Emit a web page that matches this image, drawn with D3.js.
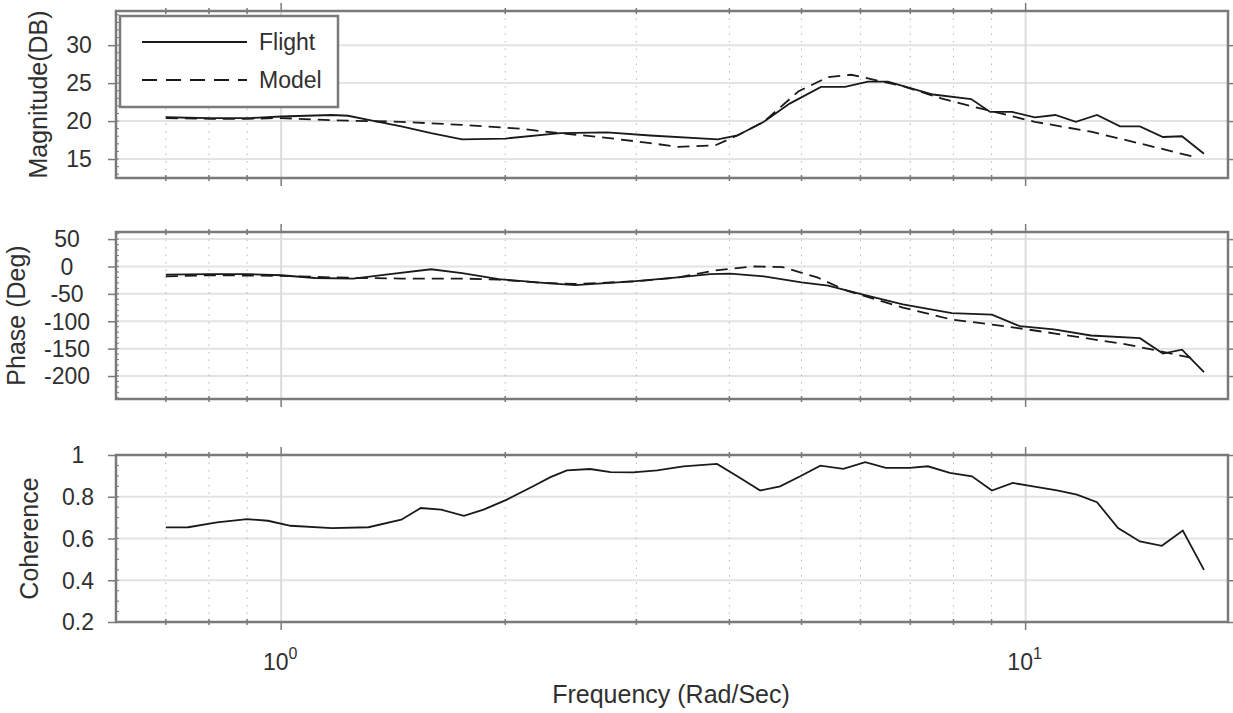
<!DOCTYPE html>
<html lang="en">
<head>
<meta charset="UTF-8">
<title>Flight vs Model frequency response</title>
<style>
  body { margin: 0; background: #fff; }
  svg text { font-family: "Liberation Sans", Arial, sans-serif; fill: #303030; }
</style>
</head>
<body>
<svg id="chart"></svg>
<script src="https://cdn.jsdelivr.net/npm/d3@7/dist/d3.min.js"></script>
<script>
// magnitude (dB)
const magFlightFreq = [0.70, 0.80, 0.91, 1.00, 1.17, 1.23, 1.32, 1.45, 1.59, 1.75, 2.00, 2.37, 2.74, 3.13, 3.86, 4.10, 4.45, 4.82, 5.31, 5.72, 6.14, 6.53, 7.02, 7.51, 8.45, 8.96, 9.59, 10.29, 10.96, 11.68, 12.47, 13.39, 14.24, 15.29, 16.22, 17.36];
const magFlight = [20.5, 20.4, 20.4, 20.6, 20.8, 20.7, 20.1, 19.3, 18.4, 17.6, 17.7, 18.4, 18.5, 18.1, 17.6, 18.1, 19.9, 22.3, 24.5, 24.5, 25.2, 25.2, 24.3, 23.5, 22.9, 21.2, 21.2, 20.5, 20.8, 19.9, 20.8, 19.3, 19.3, 17.9, 18.0, 15.7];
const magModelFreq = [0.70, 0.80, 0.90, 1.00, 1.17, 1.45, 1.75, 2.09, 2.37, 2.68, 3.13, 3.41, 3.83, 4.10, 4.45, 4.95, 5.43, 5.83, 6.22, 6.84, 7.70, 8.66, 10.29, 12.24, 14.59, 16.98];
const magModel = [20.4, 20.3, 20.3, 20.4, 20.1, 19.9, 19.5, 19.0, 18.4, 17.9, 17.1, 16.6, 16.8, 18.1, 19.9, 23.9, 25.8, 26.1, 25.5, 24.6, 23.0, 21.7, 19.9, 18.6, 16.8, 15.2];

// phase (deg)
const phaseFlightFreq = [0.70, 0.80, 0.90, 1.00, 1.11, 1.25, 1.40, 1.59, 1.75, 1.96, 2.25, 2.48, 2.97, 3.41, 3.77, 4.01, 4.45, 5.00, 5.43, 6.03, 6.84, 7.96, 9.01, 9.82, 10.91, 12.24, 14.24, 15.29, 16.22, 17.36];
const phaseFlight = [-15, -14, -14, -16, -21, -22, -14, -5, -12, -23, -30, -34, -27, -20, -14, -13, -18, -29, -35, -51, -69, -85, -88, -109, -115, -126, -131, -159, -152, -193];
const phaseModelFreq = [0.70, 0.80, 1.00, 1.17, 1.45, 1.75, 1.96, 2.25, 2.48, 3.00, 3.41, 3.83, 4.30, 4.72, 5.25, 5.75, 6.84, 7.96, 9.38, 10.91, 13.76, 16.47, 16.98];
const phaseModel = [-18, -16, -17, -20, -22, -22, -24, -30, -32, -27, -20, -7, 0, -1, -20, -44, -75, -97, -109, -122, -143, -165, -170];

// coherence
const cohFreq = [0.70, 0.75, 0.82, 0.90, 0.96, 1.03, 1.17, 1.31, 1.45, 1.54, 1.64, 1.76, 1.87, 2.01, 2.18, 2.30, 2.42, 2.60, 2.77, 2.97, 3.20, 3.47, 3.85, 4.10, 4.40, 4.68, 4.98, 5.30, 5.69, 6.09, 6.49, 6.99, 7.39, 7.91, 8.47, 9.01, 9.61, 10.23, 11.02, 11.72, 12.47, 13.31, 14.24, 15.24, 16.26, 17.36];
const cohFlight = [0.653, 0.654, 0.677, 0.693, 0.685, 0.661, 0.650, 0.654, 0.690, 0.746, 0.738, 0.709, 0.738, 0.786, 0.850, 0.894, 0.926, 0.933, 0.918, 0.917, 0.926, 0.946, 0.957, 0.898, 0.830, 0.850, 0.898, 0.949, 0.934, 0.966, 0.938, 0.938, 0.946, 0.914, 0.898, 0.830, 0.866, 0.850, 0.830, 0.810, 0.774, 0.650, 0.586, 0.565, 0.638, 0.450];

const magTicks = [15, 20, 25, 30];
const phaseTicks = [50, 0, -50, -100, -150, -200];
const cohTicks = [0.2, 0.4, 0.6, 0.8, 1];
const xMajor = [1, 10];
const xMinor = [0.7, 0.8, 0.9, 2, 3, 4, 5, 6, 7, 8, 9];

const width = 1233, height = 713;
const left = 116, right = 1228;
const frameColor = '#7a7a7a';
const dashed = '12,7';

const svg = d3.select('#chart').attr('width', width).attr('height', height);

const x = d3.scaleLog().domain([0.6, 18.7]).range([left, right]);

const panels = [
  { top: 11, bottom: 178, domain: [12.5, 34.5], ticks: magTicks, minorStep: 1, label: 'Magnitude(DB)', labelX: 47, tickX: 79,
    series: [{ f: magFlightFreq, v: magFlight, dash: null }, { f: magModelFreq, v: magModel, dash: dashed }] },
  { top: 232, bottom: 399, domain: [-242, 63], ticks: phaseTicks, minorStep: 10, label: 'Phase (Deg)', labelX: 25, tickX: 67,
    series: [{ f: phaseFlightFreq, v: phaseFlight, dash: null }, { f: phaseModelFreq, v: phaseModel, dash: dashed }] },
  { top: 455, bottom: 622, domain: [0.2, 1], ticks: cohTicks, minorStep: 0.05, label: 'Coherence', labelX: 38, tickX: 78,
    series: [{ f: cohFreq, v: cohFlight, dash: null }] }
];

panels.forEach(p => {
  const y = d3.scaleLinear().domain(p.domain).range([p.bottom, p.top]);
  const g = svg.append('g');

  // grid
  g.selectAll('.hgrid').data(p.ticks.filter(t => t > p.domain[0] && t < p.domain[1])).enter().append('line')
    .attr('x1', left).attr('x2', right).attr('y1', d => y(d)).attr('y2', d => y(d))
    .attr('stroke', '#e3e3e3').attr('stroke-width', 2);
  g.selectAll('.vminor').data(xMinor).enter().append('line')
    .attr('x1', d => x(d)).attr('x2', d => x(d)).attr('y1', p.top).attr('y2', p.bottom)
    .attr('stroke', '#b5b5b5').attr('stroke-width', 1).attr('stroke-dasharray', '1.5,6');
  g.selectAll('.vmajor').data(xMajor).enter().append('line')
    .attr('x1', d => x(d)).attr('x2', d => x(d)).attr('y1', p.top).attr('y2', p.bottom)
    .attr('stroke', '#dcdcdc').attr('stroke-width', 2);

  // y minor ticks
  const minorY = d3.range(Math.ceil(p.domain[0] / p.minorStep) * p.minorStep, p.domain[1], p.minorStep);
  g.selectAll('.yminor').data(minorY).enter().append('line')
    .attr('x1', left).attr('x2', left + 3).attr('y1', d => y(d)).attr('y2', d => y(d))
    .attr('stroke', frameColor).attr('stroke-width', 1);

  // y major ticks, both sides
  g.append('g').attr('transform', `translate(${left},0)`)
    .call(d3.axisLeft(y).tickValues(p.ticks).tickSize(8).tickSizeOuter(0).tickFormat(''))
    .call(a => a.select('.domain').remove())
    .selectAll('line').attr('stroke', frameColor).attr('stroke-width', 1.5);
  g.append('g').attr('transform', `translate(${right},0)`)
    .call(d3.axisRight(y).tickValues(p.ticks).tickSize(6).tickSizeOuter(0).tickFormat(''))
    .call(a => a.select('.domain').remove())
    .selectAll('line').attr('stroke', frameColor).attr('stroke-width', 1.5);

  // x ticks top and bottom
  [[p.top, -1], [p.bottom, 1]].forEach(([yy, dir]) => {
    g.selectAll(null).data(xMinor).enter().append('line')
      .attr('x1', d => x(d)).attr('x2', d => x(d)).attr('y1', yy - 3 * dir).attr('y2', yy + 3 * dir)
      .attr('stroke', frameColor).attr('stroke-width', 1.5);
    g.selectAll(null).data(xMajor).enter().append('line')
      .attr('x1', d => x(d)).attr('x2', d => x(d)).attr('y1', yy).attr('y2', yy + 8 * dir)
      .attr('stroke', frameColor).attr('stroke-width', 1.5);
  });

  // tick labels
  g.selectAll('.ylab').data(p.ticks).enter().append('text')
    .attr('x', p.tickX).attr('y', d => y(d)).attr('dy', '0.36em')
    .attr('text-anchor', 'middle').attr('font-size', 23)
    .text(d => d);

  // axis label
  g.append('text')
    .attr('transform', `translate(${p.labelX},${(p.top + p.bottom) / 2}) rotate(-90)`)
    .attr('text-anchor', 'middle').attr('font-size', 25)
    .text(p.label);

  // frame
  g.append('rect').attr('x', left).attr('y', p.top).attr('width', right - left).attr('height', p.bottom - p.top)
    .attr('fill', 'none').attr('stroke', frameColor).attr('stroke-width', 2.5);

  // lines
  const line = d3.line().x(d => x(d[0])).y(d => y(d[1]));
  p.series.forEach(s => {
    g.append('path')
      .datum(s.f.map((f, i) => [f, s.v[i]]))
      .attr('d', line)
      .attr('fill', 'none').attr('stroke', '#1a1a1a').attr('stroke-width', 1.8)
      .attr('stroke-dasharray', s.dash);
  });
});

// x tick labels
const xl = svg.selectAll('.xlab').data([0, 1]).enter().append('text')
  .attr('x', d => x(Math.pow(10, d)) - 1).attr('y', 670)
  .attr('text-anchor', 'middle').attr('font-size', 23);
xl.append('tspan').text('10');
xl.append('tspan').attr('dy', -11).attr('font-size', 16).text(d => d);

svg.append('text').attr('x', 671).attr('y', 703).attr('text-anchor', 'middle')
  .attr('font-size', 25).text('Frequency (Rad/Sec)');

// legend
const leg = svg.append('g');
leg.append('rect').attr('x', 120).attr('y', 16).attr('width', 218).attr('height', 91)
  .attr('fill', '#fff').attr('stroke', frameColor).attr('stroke-width', 2.5);
[['Flight', null, 42], ['Model', '15,9', 80]].forEach(([name, dash, yy]) => {
  leg.append('line').attr('x1', 142).attr('x2', 247).attr('y1', yy).attr('y2', yy)
    .attr('stroke', '#1a1a1a').attr('stroke-width', 1.8).attr('stroke-dasharray', dash);
  leg.append('text').attr('x', 259).attr('y', yy + 8).attr('font-size', 23).text(name);
});
</script>
</body>
</html>
